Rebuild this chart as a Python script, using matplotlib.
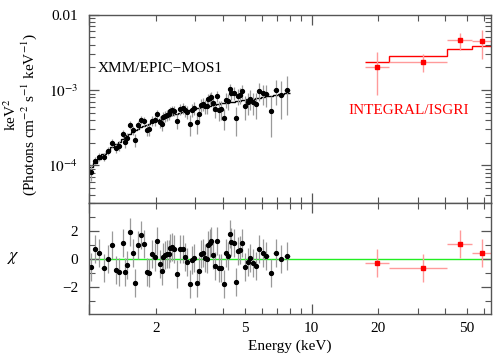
import numpy as np
import matplotlib
matplotlib.use("Agg")
import matplotlib.pyplot as plt
from matplotlib.ticker import LogLocator, FixedLocator, FuncFormatter, NullFormatter, MultipleLocator

plt.rcParams['font.family'] = ['Liberation Serif', 'DejaVu Serif']
plt.rcParams['mathtext.fontset'] = 'stix'

# ---------------- XMM/EPIC-MOS1 data ----------------
energy = [1.017, 1.056, 1.105, 1.163, 1.218, 1.269, 1.318, 1.365, 1.413, 1.447,
          1.483, 1.519, 1.567, 1.611, 1.651, 1.708, 1.756, 1.812, 1.856, 1.909,
          1.975, 2.025, 2.080, 2.117, 2.154, 2.190, 2.246, 2.276, 2.317, 2.365,
          2.415, 2.474, 2.559, 2.632, 2.696, 2.764, 2.830, 2.900, 2.972, 3.043,
          3.107, 3.172, 3.239, 3.306, 3.376, 3.421, 3.482, 3.544, 3.619, 3.680,
          3.756, 3.835, 3.932, 4.027, 4.124, 4.228, 4.299, 4.362, 4.467, 4.560,
          4.656, 4.753, 4.868, 5.022, 5.165, 5.311, 5.457, 5.653, 5.832, 6.034,
          6.270, 6.556, 6.905, 7.271, 7.766]
# flux in units of 1e-4 keV^2 (Photons cm^-2 s^-1 keV^-1)
flux_e4 = [0.82, 1.16, 1.29, 1.30, 1.57, 1.98, 1.70, 1.82, 2.62, 2.05,
           2.34, 3.45, 2.96, 2.17, 3.48, 4.06, 3.89, 2.98, 3.01, 3.90,
           3.95, 4.85, 3.82, 3.56, 4.34, 4.51, 4.69, 4.80, 5.20, 5.39,
           5.35, 3.90, 5.63, 5.77, 5.36, 5.14, 3.55, 5.51, 5.76, 3.76,
           4.84, 6.37, 6.53, 6.15, 6.07, 7.51, 7.75, 8.09, 6.75, 5.69,
           8.36, 5.52, 5.64, 4.27, 7.45, 7.24, 10.2, 9.18, 9.22, 4.20,
           8.32, 8.50, 9.66, 6.11, 6.98, 7.68, 6.94, 6.57, 9.74, 9.07,
           8.76, 5.34, 9.98, 8.60, 10.1]
flux_err_e4 = [0.19, 0.13, 0.15, 0.17, 0.20, 0.23, 0.25, 0.27, 0.31, 0.33,
               0.35, 0.40, 0.42, 0.44, 0.46, 0.50, 0.52, 0.54, 0.58, 0.59,
               0.62, 0.66, 0.70, 0.71, 0.72, 0.74, 0.76, 0.77, 0.81, 0.82,
               0.84, 0.88, 0.91, 0.93, 1.00, 1.02, 1.10, 1.12, 1.14, 1.15,
               1.17, 1.24, 1.26, 1.27, 1.29, 1.36, 1.37, 1.39, 1.47, 1.48,
               1.50, 1.58, 1.60, 1.35, 1.70, 1.72, 1.87, 1.88, 1.90, 1.78,
               2.01, 2.03, 2.12, 2.15, 2.26, 2.28, 2.31, 2.50, 2.62, 2.66,
               2.88, 2.94, 3.61, 4.41, 5.46]
model_e4 = [0.964, 1.069, 1.233, 1.403, 1.570, 1.738, 1.901, 2.075, 2.239, 2.360,
            2.495, 2.630, 2.780, 2.922, 3.048, 3.221, 3.342, 3.483, 3.597, 3.715,
            3.859, 3.968, 4.088, 4.169, 4.251, 4.330, 4.451, 4.519, 4.603, 4.688,
            4.775, 4.875, 5.025, 5.152, 5.260, 5.380, 5.495, 5.583, 5.676, 5.768,
            5.848, 5.922, 5.991, 6.060, 6.130, 6.176, 6.237, 6.298, 6.370, 6.429,
            6.504, 6.579, 6.658, 6.730, 6.801, 6.877, 6.928, 6.973, 7.047, 7.112,
            7.178, 7.244, 7.321, 7.423, 7.516, 7.610, 7.701, 7.823, 7.932, 8.063,
            8.213, 8.391, 8.604, 8.821, 9.103]
chi = [-0.57, 0.67, 0.40, -0.64, 0.00, 0.95, -0.83, -0.95, 1.10, -0.95,
       -0.45, 1.93, 0.43, -1.71, 0.95, 1.67, 1.05, -0.93, -1.02, 0.31,
       0.14, 1.29, -0.38, -0.86, 0.12, 0.24, 0.31, 0.36, 0.74, 0.86,
       0.69, -1.11, 0.67, 0.67, 0.10, -0.24, -1.81, -0.07, 0.07, -1.76,
       -0.86, 0.36, 0.43, 0.07, -0.05, 0.98, 1.10, 1.29, 0.26, -0.50,
       1.24, -0.67, -0.64, -1.83, 0.38, 0.21, 1.76, 1.17, 1.14, -1.64,
       0.57, 0.62, 1.10, -0.61, -0.24, 0.03, -0.33, -0.50, 0.69, 0.38,
       0.19, -1.04, 0.38, -0.05, 0.19]

# ---------------- INTEGRAL/ISGRI data ----------------
int_energy = [19.8, 31.6, 46.7, 58.7]
int_lo = [17.4, 22.3, 40.9, 52.5]
int_hi = [22.3, 40.9, 52.5, 66.0]
int_flux = [2.02e-3, 2.37e-3, 4.59e-3, 4.42e-3]
int_err = [1.15e-3, 0.63e-3, 1.20e-3, 1.80e-3]
int_model = [2.37e-3, 2.82e-3, 3.46e-3, 3.87e-3]
int_chi = [-0.29, -0.69, 1.03, 0.38]

E = np.array(energy)
F = np.array(flux_e4) * 1e-4
FE = np.array(flux_err_e4) * 1e-4
M = np.array(model_e4) * 1e-4
C = np.array(chi)
mids = np.sqrt(E[:-1] * E[1:])
edges = np.concatenate([[1.0], mids, [E[-1] * np.sqrt(E[-1] / E[-2])]])
xerr = np.vstack([E - edges[:-1], edges[1:] - E])

IE = np.array(int_energy)
ixerr = np.vstack([IE - np.array(int_lo), np.array(int_hi) - IE])
iedges = np.array(int_lo + [int_hi[-1]])

W, H = 493, 354
fig = plt.figure(figsize=(W / 100, H / 100), dpi=100)
L, R = 89.3 / W, 490.7 / W
ax1 = fig.add_axes([L, 1 - 202.7 / H, R - L, (202.7 - 14.7) / H])
ax2 = fig.add_axes([L, 1 - 314 / H, R - L, (314 - 202.7) / H], sharex=ax1)

spine_c = '#555555'
err_c = '#9a9a9a'
red = '#ff0000'
pink = '#ff9a9a'

# top panel
ax1.errorbar(E, F, yerr=FE, xerr=xerr, fmt='none', ecolor=err_c, elinewidth=0.9, capsize=0)
ax1.plot(E, F, 'o', color='k', ms=2.8, mec='k')
ax1.stairs(M, edges, baseline=None, color='k', lw=1.0)
ax1.errorbar(IE, int_flux, yerr=int_err, xerr=ixerr, fmt='none', ecolor=pink, elinewidth=1.0, capsize=0)
ax1.plot(IE, int_flux, 's', color=red, ms=2.6)
ax1.stairs(int_model, iedges, baseline=None, color=red, lw=1.0)

ax1.set_xscale('log')
ax1.set_yscale('log')
ax1.set_xlim(1.0, 64.0)
ax1.set_ylim(3.2e-5, 1.0e-2)

def yfmt(v, pos):
    if abs(v - 0.01) < 1e-9:
        return '0.01'
    e = int(round(np.log10(v)))
    return r'$10^{%d}$' % e
ax1.yaxis.set_major_locator(LogLocator(base=10))
ax1.yaxis.set_minor_locator(LogLocator(base=10, subs=np.arange(2, 10)))
ax1.yaxis.set_major_formatter(FuncFormatter(yfmt))
ax1.yaxis.set_minor_formatter(NullFormatter())

ax1.text(0.022, 0.716, 'XMM/EPIC\u2212MOS1', transform=ax1.transAxes, fontsize=11,
         ha='left', va='center', color='k')
ax1.text(0.645, 0.489, 'INTEGRAL/ISGRI', transform=ax1.transAxes, fontsize=11,
         ha='left', va='center', color=red)

# bottom panel
ax2.axhline(0, color='#22ee22', lw=1.0, zorder=1)
ax2.errorbar(E, C, yerr=1.0, xerr=xerr, fmt='none', ecolor=err_c, elinewidth=0.9, capsize=0)
ax2.plot(E, C, 'o', color='k', ms=2.8)
ax2.errorbar(IE, int_chi, yerr=1.0, xerr=ixerr, fmt='none', ecolor=pink, elinewidth=1.0, capsize=0)
ax2.plot(IE, int_chi, 's', color=red, ms=2.6)
ax2.set_ylim(-3.95, 4.0)
ax2.yaxis.set_major_locator(FixedLocator([-2, 0, 2]))
ax2.yaxis.set_minor_locator(MultipleLocator(1))
ax2.yaxis.set_major_formatter(FuncFormatter(lambda v, p: ('%d' % v).replace('-', '\u2212')))

ax2.xaxis.set_major_locator(LogLocator(base=10))
ax2.xaxis.set_minor_locator(LogLocator(base=10, subs=np.arange(2, 10)))
def xminfmt(v, pos):
    m = v / 10 ** np.floor(np.log10(v) + 1e-9)
    if abs(m - 2) < 1e-6 or abs(m - 5) < 1e-6:
        return '%g' % v
    return ''
ax2.xaxis.set_major_formatter(FuncFormatter(lambda v, p: '%g' % v if v > 1.5 else ''))
ax2.xaxis.set_minor_formatter(FuncFormatter(xminfmt))
ax2.set_xlabel('Energy (keV)', fontsize=11, labelpad=3)

for ax in (ax1, ax2):
    for s in ax.spines.values():
        s.set_color(spine_c)
        s.set_linewidth(1.0)
    ax.tick_params(which='both', direction='in', top=True, right=True, colors=spine_c,
                   labelcolor='k', labelsize=11)
    ax.tick_params(which='major', length=7, width=0.9, pad=6)
    ax.tick_params(which='minor', length=4, width=0.8, pad=6)
plt.setp(ax1.get_xticklabels(which='both'), visible=False)
ax1.tick_params(axis='y', pad=8)
ax2.tick_params(axis='y', pad=8)

fig.text(11 / W, 1 - 115 / H, 'keV$^2$', rotation=90, ha='center', va='center', fontsize=11)
fig.text(29 / W, 1 - 115 / H, '(Photons cm$^{-2}$ s$^{-1}$ keV$^{-1}$)', rotation=90,
         ha='center', va='center', fontsize=11)
fig.text(13 / W, 1 - 258 / H, '$\\chi$', ha='center', va='center', fontsize=13)

fig.savefig('out.png', dpi=100)
